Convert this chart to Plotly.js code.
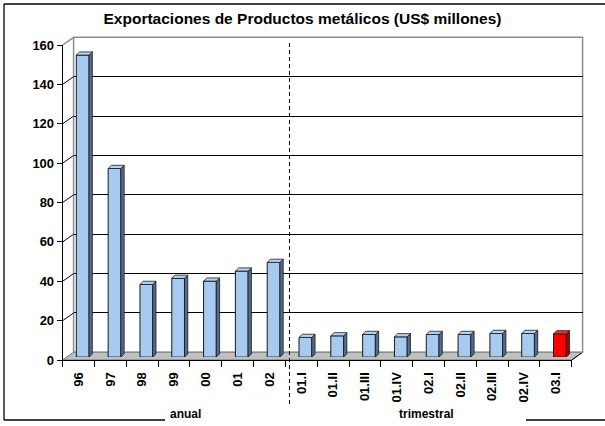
<!DOCTYPE html>
<html>
<head>
<meta charset="utf-8">
<script src="https://cdn.plot.ly/plotly-3.0.1.min.js"></script>
<style>html,body{margin:0;padding:0;background:#fff}#chart{width:605px;height:426px}</style>
</head>
<body>
<div id="chart"></div>
<script>
// ---- data ----
const categories = ['96','97','98','99','00','01','02','01.I','01.II','01.III','01.IV','02.I','02.II','02.III','02.IV','03.I'];
const exportValues = [153.4, 95.8, 36.9, 40.0, 38.6, 43.7, 48.1, 10.0, 10.8, 11.5, 10.3, 11.5, 11.5, 12.0, 12.0, 11.8];
const yTickValues = [0, 20, 40, 60, 80, 100, 120, 140, 160];
const groupLabels = ['anual', 'trimestral'];
const titleText = 'Exportaciones de Productos metálicos (US$ millones)';
const highlightCategory = '03.I';

// ---- geometry / style ----
const W = 605, H = 426;
const FRONT = {x0: 62.7, x1: 571.7, y0: 360, y1: 45};
const DEPTH = {dx: 10.9, dy: 7.7};
const BARPLANE = 0.375;          // depth fraction of bar front faces
const BAR_W = 0.4;               // bar width in category units
const SIDE_PX = {dx: 3.3, dy: 3.2};
const FONT = "Arial, 'Liberation Sans', sans-serif";
const COL = {
  blue: '#A6CAF0', blueSide: '#536B8E', blueTop: '#B4D2F2',
  red: '#FF0000', redSide: '#9E0000', redTop: '#FF2A2A',
  edge: '#1a1a1a', wall: '#8c8c8c', floor: '#c0c0c0'
};

const fx = p => p / W, fy = p => 1 - p / H;
const nCat = categories.length;
const xr = [-0.5, nCat - 0.5];
const yr = [yTickValues[0], yTickValues[yTickValues.length - 1]];
const catPx = (FRONT.x1 - FRONT.x0) / nCat;
const unitPx = (FRONT.y0 - FRONT.y1) / (yr[1] - yr[0]);
const shift = (f) => ({x0: FRONT.x0 + DEPTH.dx * f, x1: FRONT.x1 + DEPTH.dx * f,
                       y0: FRONT.y0 - DEPTH.dy * f, y1: FRONT.y1 - DEPTH.dy * f});
const BACK = shift(1), BP = shift(BARPLANE);
const sdx = SIDE_PX.dx / catPx, sdy = SIDE_PX.dy / unitPx;
const idx = categories.map((c, i) => i);

// ---- traces ----
const dummy = (xa, ya) => ({type: 'scatter', x: [0], y: [-100], mode: 'markers',
  marker: {opacity: 0}, hoverinfo: 'skip', showlegend: false, xaxis: xa, yaxis: ya});

const isHi = c => c === highlightCategory;
const bars = {
  type: 'bar', x: idx, y: exportValues, width: BAR_W, xaxis: 'x3', yaxis: 'y3',
  marker: {color: categories.map(c => isHi(c) ? COL.red : COL.blue), line: {color: COL.edge, width: 1}},
  hoverinfo: 'skip', showlegend: false
};

function facePolys(filter, kind) {
  const xs = [], ys = [];
  idx.forEach(i => {
    if (!filter(categories[i])) return;
    const v = exportValues[i], l = i - BAR_W / 2, r = i + BAR_W / 2;
    if (kind === 'side') {
      xs.push(r, r + sdx, r + sdx, r, r, null);
      ys.push(0, sdy, v + sdy, v, 0, null);
    } else {
      xs.push(l, r, r + sdx, l + sdx, l, null);
      ys.push(v, v, v + sdy, v + sdy, v, null);
    }
  });
  return {xs, ys};
}
function faceTrace(filter, kind, color) {
  const p = facePolys(filter, kind);
  return {type: 'scatter', x: p.xs, y: p.ys, mode: 'lines', fill: 'toself', fillcolor: color,
    line: {color: COL.edge, width: 0.8}, xaxis: 'x3', yaxis: 'y3', hoverinfo: 'skip', showlegend: false};
}

const data = [
  dummy('x', 'y'), dummy('x2', 'y2'), bars,
  faceTrace(c => !isHi(c), 'side', COL.blueSide), faceTrace(c => !isHi(c), 'top', COL.blueTop),
  faceTrace(isHi, 'side', COL.redSide), faceTrace(isHi, 'top', COL.redTop)
];

// ---- shapes ----
const shapes = [];
const line = (x0, y0, x1, y1, color, width, dash, layer) => shapes.push({type: 'line', xref: 'paper', yref: 'paper',
  x0: fx(x0), y0: fy(y0), x1: fx(x1), y1: fy(y1), line: {color, width, dash: dash || 'solid'}, layer: layer || 'above'});

// outer frame
line(4, 4, 610, 4, '#000', 1.3);
line(4, 4, 4, 420, '#000', 1.3);
line(4, 420, 165, 420, '#000', 1.3);
line(526, 420, 610, 420, '#000', 1.3);

// floor
shapes.push({type: 'path', xref: 'paper', yref: 'paper', layer: 'below',
  path: `M ${fx(FRONT.x0)} ${fy(FRONT.y0)} L ${fx(FRONT.x1)} ${fy(FRONT.y0)} L ${fx(BACK.x1)} ${fy(BACK.y0)} L ${fx(BACK.x0)} ${fy(BACK.y0)} Z`,
  fillcolor: COL.floor, line: {color: '#707070', width: 1}});
line(FRONT.x1, FRONT.y0, BACK.x1, BACK.y0, '#000', 1, 'solid', 'below');

// back wall border
shapes.push({type: 'rect', xref: 'x2 domain', yref: 'y2 domain', x0: 0, x1: 1, y0: 0, y1: 1,
  line: {color: COL.wall, width: 1.5}, layer: 'below'});

// side wall diagonals for each gridline
yTickValues.forEach(v => {
  if (v === yr[0]) return;
  const yf = FRONT.y0 - (v - yr[0]) * unitPx;
  line(FRONT.x0, yf, BACK.x0, yf - DEPTH.dy, v === yr[1] ? COL.wall : '#000', v === yr[1] ? 1.5 : 1, 'solid', 'below');
});

// dashed separator between annual and quarterly data
const firstQuarter = categories.indexOf('01.I');
shapes.push({type: 'line', xref: 'x3', yref: 'paper', x0: firstQuarter - 0.5, x1: firstQuarter - 0.5,
  y0: fy(43), y1: fy(407), line: {color: '#000', width: 1, dash: '4px,3px'}, layer: 'above'});

// ---- layout ----
const yTickFont = {family: FONT, size: 13, color: '#000', weight: 'bold'};
const xTickFont = {family: FONT, size: 13, color: '#000', weight: 'bold'};
const groupFont = {family: FONT, size: 12, color: '#000', weight: 'bold'};
const layout = {
  width: W, height: H,
  margin: {l: 0, r: 0, t: 0, b: 0, autoexpand: false},
  paper_bgcolor: '#fff', plot_bgcolor: 'rgba(0,0,0,0)',
  showlegend: false,
  title: {text: titleText, x: 0.5, xanchor: 'center', y: fy(19), yanchor: 'middle', xref: 'container', yref: 'container',
    font: {family: FONT, size: 15.5, color: '#000', weight: 'bold'}},
  xaxis: {domain: [fx(FRONT.x0), fx(FRONT.x1)], range: xr, anchor: 'y', fixedrange: true,
    tickmode: 'array', tickvals: idx, ticktext: categories, ticks: '', tickangle: -90,
    ticklabelstandoff: 6, tickfont: xTickFont, showgrid: false, zeroline: false,
    showline: true, linecolor: '#000', linewidth: 1,
    minor: {tickmode: 'array', tickvals: idx.map(i => i + 0.5).concat([-0.5]), ticks: 'outside', ticklen: 6, tickcolor: '#000', tickwidth: 1, showgrid: false}},
  yaxis: {domain: [fy(FRONT.y0), fy(FRONT.y1)], range: yr, anchor: 'x', fixedrange: true,
    tickmode: 'array', tickvals: yTickValues, ticks: 'outside', ticklen: 5, tickcolor: '#000',
    tickfont: yTickFont, showgrid: false, zeroline: false, showline: true, linecolor: '#000', linewidth: 1},
  xaxis2: {domain: [fx(BACK.x0), fx(BACK.x1)], range: xr, anchor: 'y2', showgrid: false, zeroline: false,
    showticklabels: false, ticks: '', showline: false},
  yaxis2: {domain: [fy(BACK.y0), fy(BACK.y1)], range: yr, anchor: 'x2', tickmode: 'array',
    tickvals: yTickValues.slice(1, -1), showgrid: true, gridcolor: '#000', gridwidth: 1,
    zeroline: false, showticklabels: false, ticks: '', showline: false},
  xaxis3: {domain: [fx(BP.x0), fx(BP.x1)], range: xr, anchor: 'y3', visible: false},
  yaxis3: {domain: [fy(BP.y0), fy(BP.y1)], range: yr, anchor: 'x3', visible: false},
  shapes: shapes,
  annotations: [
    {text: groupLabels[0], xref: 'paper', yref: 'paper', x: fx(168), y: fy(414), showarrow: false,
     xanchor: 'left', yanchor: 'middle', font: groupFont},
    {text: groupLabels[1], xref: 'paper', yref: 'paper', x: fx(426.5), y: fy(414), showarrow: false,
     xanchor: 'center', yanchor: 'middle', font: groupFont}
  ]
};

Plotly.newPlot('chart', data, layout, {displayModeBar: false, staticPlot: true});
</script>
</body>
</html>
